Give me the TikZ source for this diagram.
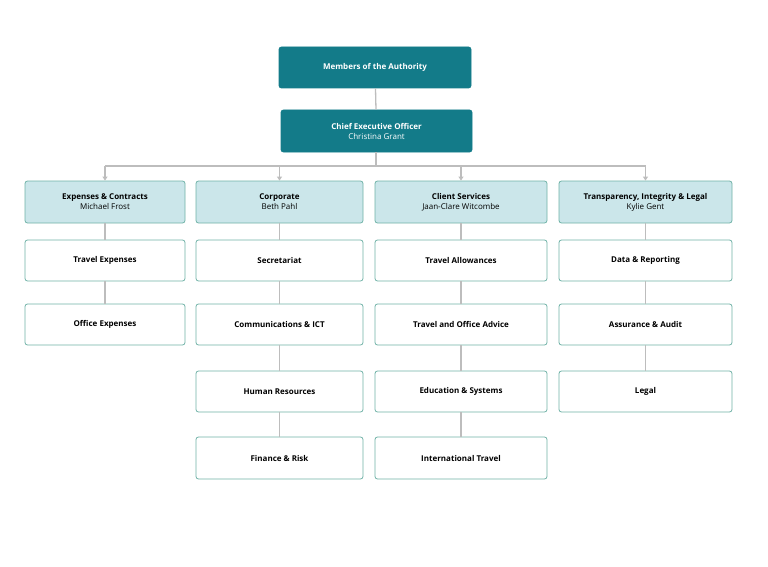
\documentclass[tikz,border=0pt]{standalone}
\usepackage{fontspec}
\setmainfont{Open Sans}
\usetikzlibrary{arrows.meta}
\definecolor{teal1}{HTML}{137B89}
\definecolor{lteal}{HTML}{CBE6EA}
\definecolor{bord}{HTML}{6FB2A6}
\definecolor{ln}{HTML}{BDBDBD}
\begin{document}
\begin{tikzpicture}[x=1pt,y=-1pt,
 box/.style={draw=bord,line width=0.8pt,rounded corners=2.5pt,fill=white,font=\fontsize{8}{10}\selectfont\bfseries,align=center,inner sep=0pt},
 top/.style={box,draw=teal1,fill=teal1,text=white},
 head/.style={box,fill=lteal},
 con/.style={draw=ln,line width=1.3pt},
 arr/.style={con,-{Triangle[length=4pt,width=5pt]}}]
\useasboundingbox (0,0) rectangle (768,567);
\newcommand{\bx}[7]{\node[#1,minimum width=#4-#3,minimum height=#6-#5] (#2) at ({(#3+#4)/2},{(#5+#6)/2}) {#7};}
\bx{top}{m}{279}{471}{47}{88}{Members of the Authority}
\bx{top}{ceo}{281}{472}{110}{152}{Chief Executive Officer\\\mdseries Christina Grant}
\bx{head}{h1}{25}{185}{181}{223}{Expenses \& Contracts\\\mdseries Michael Frost}
\bx{head}{h2}{196}{363}{181}{223}{Corporate\\\mdseries Beth Pahl}
\bx{head}{h3}{375}{547}{181}{223}{Client Services\\\mdseries Jaan-Clare Witcombe}
\bx{head}{h4}{559}{732}{181}{223}{Transparency, Integrity \& Legal\\\mdseries Kylie Gent}
\bx{box}{a1}{25}{185}{240}{281}{Travel Expenses}
\bx{box}{a2}{25}{185}{304}{345}{Office Expenses}
\bx{box}{b1}{196}{363}{240}{281}{Secretariat}
\bx{box}{b2}{196}{363}{304}{345}{Communications \& ICT}
\bx{box}{b3}{196}{363}{371}{412}{Human Resources}
\bx{box}{b4}{196}{363}{437}{479}{Finance \& Risk}
\bx{box}{c1}{375}{547}{240}{281}{Travel Allowances}
\bx{box}{c2}{375}{547}{304}{345}{Travel and Office Advice}
\bx{box}{c3}{375}{547}{371}{412}{Education \& Systems}
\bx{box}{c4}{375}{547}{437}{479}{International Travel}
\bx{box}{d1}{559}{732}{240}{281}{Data \& Reporting}
\bx{box}{d2}{559}{732}{304}{345}{Assurance \& Audit}
\bx{box}{d3}{559}{732}{371}{412}{Legal}
\coordinate (j) at (376,166);
\begin{scope}[on background layer/.style={}]
\draw[con] (m) -- (ceo);
\draw[con] (ceo.south -| j) -- (j);
\draw[con] (h1.north |- j) -- (h4.north |- j);
\foreach \h in {h1,h2,h3,h4}{\draw[arr] (\h.north |- j) -- (\h.north);}
\draw[con] (h1) -- (a1); \draw[con] (a1) -- (a2);
\draw[con] (h2) -- (b1); \draw[con] (b1) -- (b2); \draw[con] (b2) -- (b3); \draw[con] (b3) -- (b4);
\draw[con] (h3) -- (c1); \draw[con] (c1) -- (c2); \draw[con] (c2) -- (c3); \draw[con] (c3) -- (c4);
\draw[con] (h4) -- (d1); \draw[con] (d1) -- (d2); \draw[con] (d2) -- (d3);
\end{scope}
\end{tikzpicture}
\end{document}
